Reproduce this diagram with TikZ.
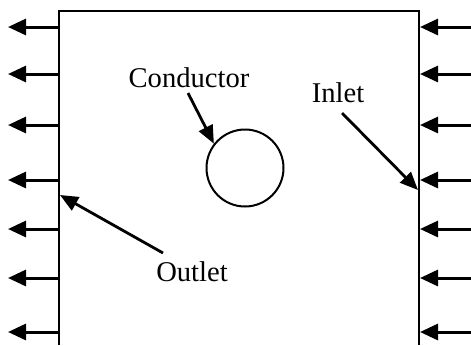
\documentclass[tikz,border=0pt]{standalone}
\usepackage{fontspec}
\setmainfont{Liberation Serif}
\usepackage{tikz}
\usetikzlibrary {arrows.meta}
\tikzset{
  flow/.style={arrows = {-Triangle[length=9pt, width=8pt]}, line width=1.5pt},
  callout/.style={arrows = {-Triangle[length=9pt, width=7.5pt]}, line width=1.4pt},
  label/.style={font=\fontsize{14.3}{17}\selectfont, inner sep=0pt},
}
\begin{document}
\begin{tikzpicture}[x=0.5pt, y=0.5pt]
\useasboundingbox (0,0) rectangle (471,345);
% channel walls
\coordinate (BL) at (59,0);
\coordinate (TL) at (59,334);
\coordinate (TR) at (419,334);
\coordinate (BR) at (419,0);
\draw [line width=1pt] (BL) -- (TL) -- (TR) -- (BR);
% outlet and inlet arrows
\foreach \y [count=\i] in {318,271,220,165,116,67,13} {
  \coordinate (out\i) at (59,\y);
  \coordinate (outtip\i) at (8,\y);
  \draw [flow] (out\i) -- (outtip\i);
  \coordinate (in\i) at (471,\y);
  \coordinate (intip\i) at (420,\y);
  \draw [flow] (in\i) -- (intip\i);
}
% conductor
\node [draw, circle, line width=1pt, minimum size=38.5pt, inner sep=0pt] (cond) at (245,177) {};
\node [label] (condlabel) at (189,267) {Conductor};
\coordinate (condtail) at (188,252);
\draw [callout] (condtail) -- (cond.142);
% inlet
\node [label] (inlabel) at (338,252) {Inlet};
\coordinate (intail) at (342,232);
\coordinate (inwall) at (418,155);
\draw [callout] (intail) -- (inwall);
% outlet
\node [label] (outlabel) at (192,73) {Outlet};
\coordinate (outtail) at (163,92);
\coordinate (outwall) at (60,150);
\draw [callout] (outtail) -- (outwall);
\end{tikzpicture}
\end{document}
